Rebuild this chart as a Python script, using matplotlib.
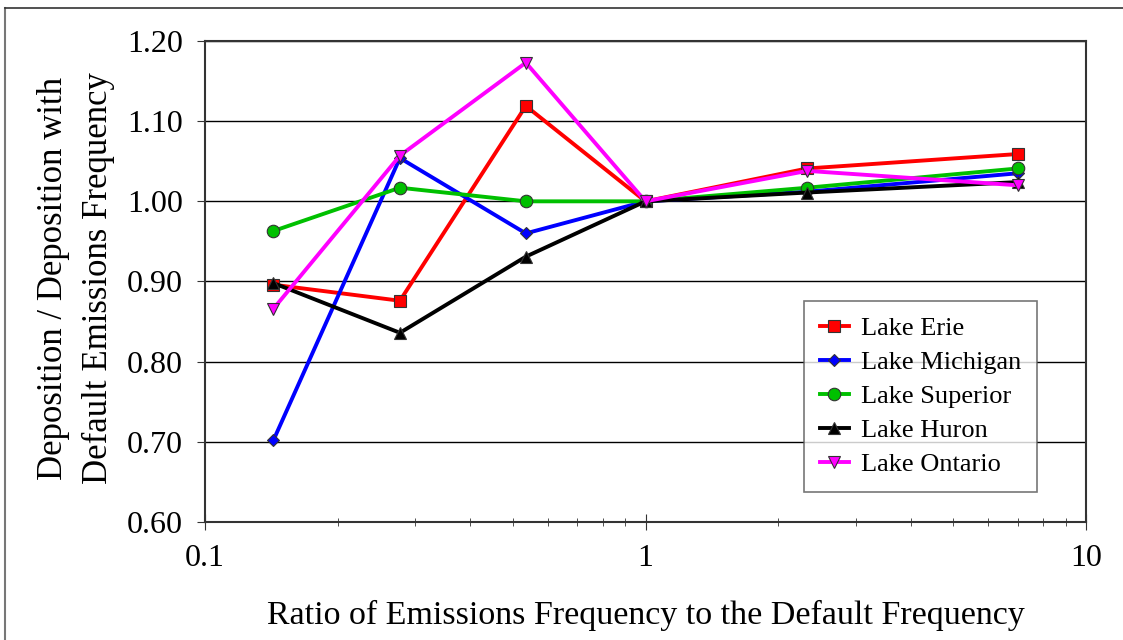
import matplotlib
matplotlib.use("Agg")
import matplotlib.pyplot as plt
from matplotlib.lines import Line2D
from matplotlib.ticker import FixedLocator, FixedFormatter, LogLocator, NullFormatter

plt.rcParams['font.family'] = ['Liberation Serif', 'DejaVu Serif']

x = [0.143, 0.277, 0.535, 1.0, 2.33, 7.0]
lake_erie = [0.896, 0.876, 1.119, 1.000, 1.041, 1.059]
lake_michigan = [0.702, 1.054, 0.960, 1.000, 1.012, 1.035]
lake_superior = [0.963, 1.017, 1.000, 1.000, 1.017, 1.041]
lake_huron = [0.898, 0.836, 0.931, 1.000, 1.011, 1.024]
lake_ontario = [0.866, 1.057, 1.173, 1.000, 1.038, 1.020]

series = [
    ("Lake Erie", lake_erie, "#ff0000", "s", 8.5),
    ("Lake Michigan", lake_michigan, "#0000ff", "D", 6.5),
    ("Lake Superior", lake_superior, "#00c000", "o", 9),
    ("Lake Huron", lake_huron, "#000000", "^", 9),
    ("Lake Ontario", lake_ontario, "#ff00ff", "v", 9),
]

fig = plt.figure(figsize=(11.23, 6.4), dpi=100)
ax = fig.add_axes([205/1123, 1-522/640, (1086-205)/1123, (522-41)/640])

for name, vals, col, mk, ms in series:
    ax.plot(x, vals, color=col, lw=2.8, marker=mk, markersize=ms,
            markerfacecolor=col, markeredgecolor="#333333", markeredgewidth=0.8,
            label=name)

ax.set_xscale('log')
ax.set_xlim(0.1, 10)
ax.set_ylim(0.6, 1.2)
yt = [0.6, 0.7, 0.8, 0.9, 1.0, 1.1, 1.2]
ax.set_yticks(yt)
ax.set_yticklabels([f"{v:.2f}" for v in yt])
ax.xaxis.set_major_locator(FixedLocator([0.1, 1, 10]))
ax.xaxis.set_major_formatter(FixedFormatter(["0.1", "1", "10"]))
ax.xaxis.set_minor_locator(LogLocator(base=10, subs=range(2, 10)))
ax.xaxis.set_minor_formatter(NullFormatter())
ax.yaxis.grid(True, color="black", lw=1)
ax.set_axisbelow(True)
for s in ax.spines.values():
    s.set_color("#333333")
    s.set_linewidth(1.5)

ax.tick_params(axis='both', which='major', labelsize=23, direction='out', length=6, color="#333333")
ax.tick_params(axis='x', which='major', direction='inout', length=12, pad=10)
ax.tick_params(axis='x', which='minor', direction='inout', length=6, color="#333333")
ax.tick_params(axis='y', pad=10)

ax.set_xlabel("Ratio of Emissions Frequency to the Default Frequency", fontsize=24.5)
ax.xaxis.label.set_va('center')
ax.xaxis.set_label_coords(0.5, (522-615)/481)
ax.set_ylabel("Deposition / Deposition with\nDefault Emissions Frequency", fontsize=25, linespacing=1.5)
ax.yaxis.label.set_va('center')
ax.yaxis.set_label_coords((76-205)/881, 0.507)

leg = ax.legend(loc='lower right', bbox_to_anchor=(0.944, 0.062), fontsize=19, frameon=True,
                fancybox=False, edgecolor="#555555", handlelength=1.1, borderpad=0.6,
                labelspacing=0.4, handletextpad=0.45, borderaxespad=0)
leg.get_frame().set_linewidth(1.2)

# figure border (left and top edges visible)
fig.add_artist(Line2D([5/1123, 5/1123], [0, 1-8/640], transform=fig.transFigure, color="#777777", lw=1.5))
fig.add_artist(Line2D([5/1123, 1], [1-8/640, 1-8/640], transform=fig.transFigure, color="#333333", lw=1.2))

fig.savefig("out.png", dpi=100)
